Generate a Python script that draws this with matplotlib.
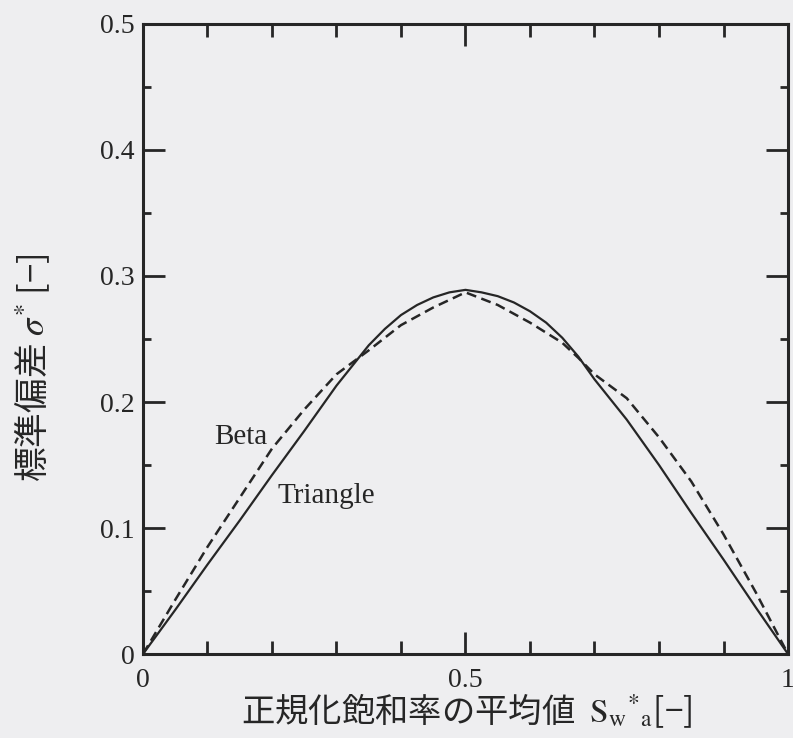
import numpy as np
import matplotlib.pyplot as plt
from matplotlib.ticker import FixedLocator

# 正規化飽和率の平均値と標準偏差の上限
s_mean = [0.0, 0.05, 0.10, 0.15, 0.20, 0.25, 0.30, 0.35, 0.375, 0.40, 0.425, 0.45, 0.475,
          0.50, 0.525, 0.55, 0.575, 0.60, 0.625, 0.65, 0.675, 0.70, 0.75, 0.80, 0.85, 0.90, 0.95, 1.0]
sigma_triangle = [0.0, 0.035, 0.071, 0.106, 0.142, 0.177, 0.213, 0.245, 0.258, 0.269, 0.277, 0.283, 0.287,
                  0.289, 0.287, 0.284, 0.279, 0.272, 0.263, 0.251, 0.236, 0.218, 0.186, 0.150, 0.112, 0.075, 0.037, 0.0]
sigma_beta = [0.0, 0.043, 0.085, 0.124, 0.163, 0.194, 0.222, 0.241, 0.251, 0.261, 0.268, 0.275, 0.281,
              0.287, 0.282, 0.277, 0.270, 0.263, 0.255, 0.247, 0.235, 0.222, 0.203, 0.172, 0.137, 0.095, 0.049, 0.0]

x_ticks = [0, 0.5, 1]
x_tick_labels = ['0', '0.5', '1']
y_ticks = [0, 0.1, 0.2, 0.3, 0.4, 0.5]
y_tick_labels = ['0', '0.1', '0.2', '0.3', '0.4', '0.5']

bg = '#eeeef0'
ink = '#262626'
serif = ['Liberation Serif', 'DejaVu Serif']
jp = ['Noto Sans CJK JP', 'DejaVu Sans']
plt.rcParams['mathtext.fontset'] = 'stix'

fig = plt.figure(figsize=(7.93, 7.38), dpi=100, facecolor=bg)
ax = fig.add_axes([0.1803, 0.1138, 0.8134, 0.8537], facecolor=bg)

ax.plot(s_mean, sigma_triangle, color=ink, lw=1.6)
ax.plot(s_mean, sigma_beta, color=ink, lw=1.8, dashes=(4.0, 2.2))

ax.set_xlim(0, 1)
ax.set_ylim(0, 0.5)

ax.xaxis.set_major_locator(FixedLocator(x_ticks))
ax.xaxis.set_minor_locator(FixedLocator(np.arange(0.1, 1.0, 0.1)))
ax.yaxis.set_major_locator(FixedLocator(y_ticks))
ax.yaxis.set_minor_locator(FixedLocator(np.arange(0.05, 0.5, 0.1)))
ax.set_xticklabels(x_tick_labels)
ax.set_yticklabels(y_tick_labels)

for lab in ax.get_xticklabels() + ax.get_yticklabels():
    lab.set_family(serif)
    lab.set_fontsize(20)
    lab.set_color(ink)

ax.tick_params(which='both', direction='in', top=True, right=True, color=ink, width=2)
ax.tick_params(axis='x', which='major', length=16, pad=10)
ax.tick_params(axis='x', which='minor', length=9.5)
ax.tick_params(axis='y', which='major', length=16, pad=6)
ax.tick_params(axis='y', which='minor', length=6)

for sp in ax.spines.values():
    sp.set_linewidth(2.2)
    sp.set_color(ink)

# 曲線の名前
ax.text(0.152, 0.172, 'Beta', family=serif, fontsize=21, color=ink,
        ha='center', va='center')
ax.text(0.209, 0.120, 'Triangle', family=serif, fontsize=21, color=ink,
        ha='left', va='baseline')

# 軸ラベル
fig.text(0.589, 0.022, '正規化飽和率の平均値  $\\mathrm{S}_{\\mathrm{w}}{}^{*}{}_{\\mathrm{a}}$[−]',
         family=jp, fontsize=24, color=ink, ha='center', va='baseline')
fig.text(0.041, 1 - 368 / 738, '標準偏差 $\\sigma^{*}$ [−]',
         family=jp, fontsize=25, color=ink, ha='center', va='center', rotation=90)

fig.savefig('out.png', dpi=100, facecolor=bg)
